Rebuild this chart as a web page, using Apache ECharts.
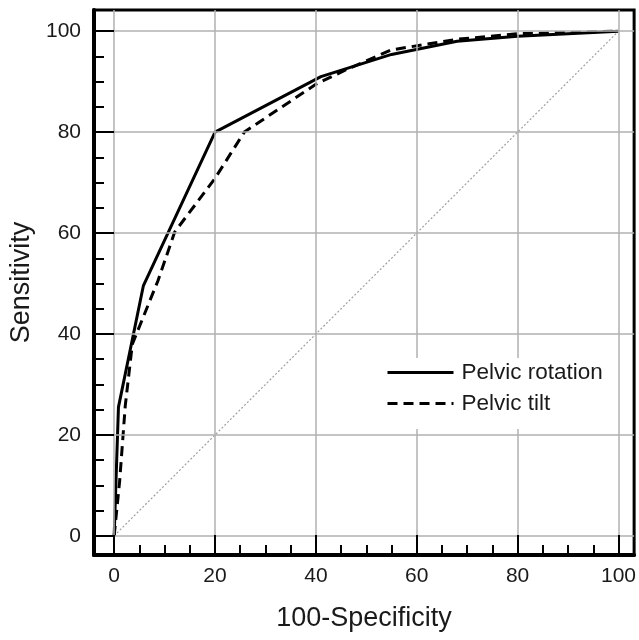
<!DOCTYPE html>
<html>
<head>
<meta charset="utf-8">
<script src="https://cdn.jsdelivr.net/npm/echarts@6/dist/echarts.min.js"></script>
<style>
html,body{margin:0;padding:0;background:#fff;}
#chart{width:639px;height:640px;}
</style>
</head>
<body>
<div id="chart"></div>
<script>
// ---- data ----
var majorTicks = [0, 20, 40, 60, 80, 100];
var minorTicks = [5, 10, 15, 25, 30, 35, 45, 50, 55, 65, 70, 75, 85, 90, 95];

var rotationX = [0, 0.85, 5.8, 20, 41, 55, 68, 80, 100];
var rotationY = [0, 25.5, 49.6, 80, 91, 95.4, 98, 99, 100];

var tiltX = [0, 1.1, 2.2, 3.6, 8.7, 12, 19.9, 25.8, 40, 46.5, 55, 68, 80, 100];
var tiltY = [0, 11, 25.8, 38, 50.6, 60.2, 70.7, 80, 89.5, 92.6, 96.3, 98.4, 99.5, 100];

var refX = [0, 100];
var refY = [0, 100];

function pairs(xs, ys) { return xs.map(function (x, i) { return [x, ys[i]]; }); }

var FONT = '"Liberation Sans", Arial, Helvetica, sans-serif';
var TXT = '#1a1a1a';

var xMin = -4.0, xMax = 103.1, yMin = -3.8, yMax = 104.2;

function majorAxis(pos, isX) {
  return {
    type: 'value', position: pos, min: isX ? xMin : yMin, max: isX ? xMax : yMax,
    name: isX ? '100-Specificity' : 'Sensitivity',
    nameLocation: 'middle',
    nameGap: isX ? 50 : 55,
    nameTextStyle: { fontFamily: FONT, fontSize: 27, color: TXT },
    axisLine: { show: true, onZero: false, lineStyle: { color: '#000', width: 4 } },
    axisTick: { show: true, inside: true, length: 20, customValues: majorTicks, lineStyle: { color: '#000', width: 2 } },
    axisLabel: { show: true, customValues: majorTicks, margin: isX ? 11 : 13, fontFamily: FONT, fontSize: 21, color: TXT },
    splitLine: { show: true, lineStyle: { color: '#b0b0b0', width: 1.5 } },
    minorTick: { show: false },
    z: 5
  };
}
function minorAxis(pos, isX) {
  return {
    type: 'value', position: pos, min: isX ? xMin : yMin, max: isX ? xMax : yMax,
    axisLine: { show: false, onZero: false },
    axisTick: { show: true, inside: true, length: 10, customValues: minorTicks, lineStyle: { color: '#000', width: 2 } },
    axisLabel: { show: false },
    splitLine: { show: false },
    z: 5
  };
}

var chart = echarts.init(document.getElementById('chart'), null, { renderer: 'canvas' });
chart.setOption({
  backgroundColor: '#fff',
  animation: false,
  grid: { left: 94, right: 2, top: 10, bottom: 85, show: true, borderColor: '#000', borderWidth: 3, backgroundColor: 'transparent' },
  xAxis: [majorAxis('bottom', true), minorAxis('bottom', true)],
  yAxis: [majorAxis('left', false), minorAxis('left', false)],
  legend: {
    orient: 'vertical', left: 376, top: 358, z: 20,
    padding: [3, 10, 14, 10],
    backgroundColor: '#ffffff',
    itemWidth: 66, itemHeight: 14, itemGap: 8,
    data: ['Pelvic rotation', 'Pelvic tilt'],
    itemStyle: { color: 'rgba(0,0,0,0)', borderWidth: 0, opacity: 0 },
    lineStyle: { width: 3 },
    textStyle: { fontFamily: FONT, fontSize: 22.5, color: TXT, padding: [0, 0, 0, 3] }
  },
  series: [
    {
      name: 'reference', type: 'line', data: pairs(refX, refY), symbol: 'none', silent: true,
      lineStyle: { color: '#a0a0a0', width: 1.2, type: [2, 2] }, z: 2
    },
    {
      name: 'Pelvic rotation', type: 'line', data: pairs(rotationX, rotationY), symbol: 'none',
      lineStyle: { color: '#000', width: 3, type: 'solid' }, itemStyle: { color: '#000' }, z: 4
    },
    {
      name: 'Pelvic tilt', type: 'line', data: pairs(tiltX, tiltY), symbol: 'none',
      lineStyle: { color: '#000', width: 3, type: [10, 6] }, itemStyle: { color: '#000' }, z: 3
    }
  ]
});
</script>
</body>
</html>
